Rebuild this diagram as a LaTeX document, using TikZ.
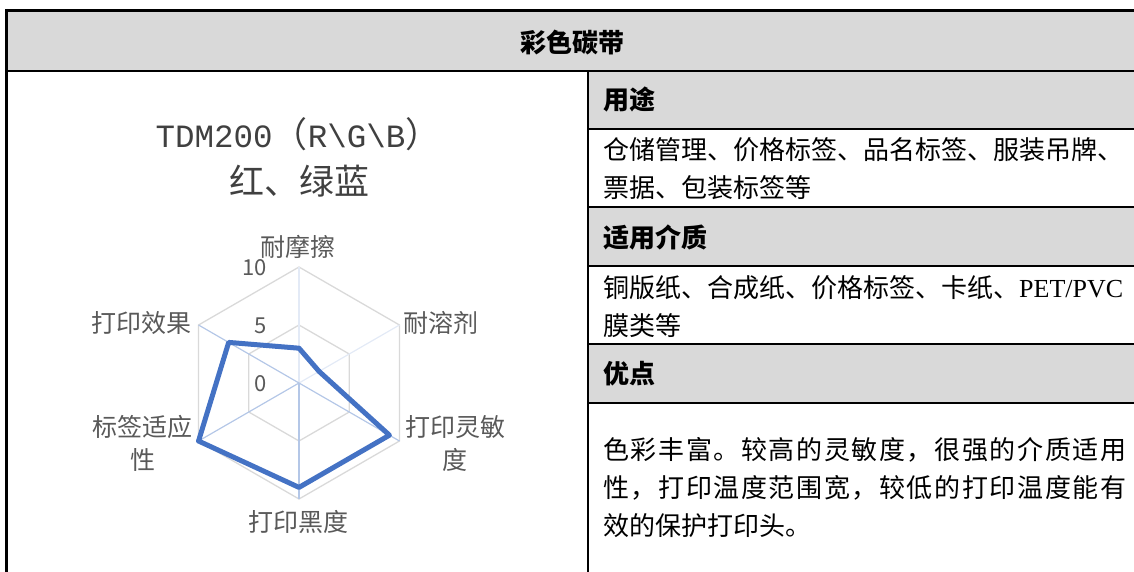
\documentclass[tikz,border=0pt]{standalone}
\usepackage{fontspec}
\setmainfont{Liberation Serif}
\newfontfamily\cjk{Noto Sans CJK SC}
\newfontfamily\cjkwide[LetterSpace=6.2]{Noto Sans CJK SC}
\newfontfamily\lmono{Liberation Mono}
\definecolor{cellgray}{HTML}{D9D9D9}
\definecolor{gridgray}{HTML}{D9D9D9}
\definecolor{spokeblue}{HTML}{B4C7E7}
\definecolor{spokepale}{HTML}{E3EAF6}
\definecolor{seriesblue}{HTML}{4472C4}
\definecolor{labelgray}{HTML}{595959}
\definecolor{titlegray}{HTML}{404040}
\tikzset{
  head/.style={anchor=west, inner sep=0pt, font=\cjk\bfseries\fontsize{26}{30}\selectfont},
  body/.style={anchor=west, inner sep=0pt, align=left, font=\fontsize{26}{38}\selectfont},
  axislabel/.style={inner sep=0pt, align=center, text=labelgray, font=\cjk\fontsize{25}{33}\selectfont},
  ticklabel/.style={anchor=east, inner sep=0pt, text=labelgray, font=\cjk\fontsize{22}{22}\selectfont},
  gridline/.style={draw=gridgray, line width=1.3pt},
  series/.style={draw=seriesblue, line width=5pt, line join=round}
}
\begin{document}
\begin{tikzpicture}[x=1pt, y=-1pt]
    \useasboundingbox (0,0) rectangle (1134,572);
    \fill[cellgray] (8,11) rectangle (1134,71);
    \fill[cellgray] (588,71) rectangle (1134,129);
    \fill[cellgray] (588,207) rectangle (1134,266);
    \fill[cellgray] (588,344) rectangle (1134,403);
    \draw[line width=1.4pt] (8,71)--(1134,71);
    \draw[line width=1.4pt] (588,71)--(588,572);
    \foreach \y in {129,207,266,344,403}
        \draw[line width=1.4pt] (588,\y)--(1134,\y);
    \draw[line width=3pt] (5,10.5)--(1134,10.5);
    \draw[line width=3pt] (6.5,9)--(6.5,572);

    \node[inner sep=0pt, font=\cjk\bfseries\fontsize{26}{30}\selectfont] (title) at (572,43) {彩色碳带};
    \node[head] (usage) at (603,100) {用途};
    \node[body] (usagetext) at (603,169) {\cjk 仓储管理、价格标签、品名标签、服装吊牌、\\\cjk 票据、包装标签等};
    \node[head] (media) at (603,237) {适用介质};
    \node[body] (mediatext) at (603,307) {{\cjk 铜版纸、合成纸、价格标签、卡纸、}PET/PVC\\\cjk 膜类等};
    \node[head] (merit) at (603,374) {优点};
    \node[body] (merittext) at (603,488) {\cjkwide 色彩丰富。较高的灵敏度，很强的介质适用\\\cjkwide 性，打印温度范围宽，较低的打印温度能有\\\cjk 效的保护打印头。};

    \node[inner sep=0pt, text=titlegray, font=\fontsize{32.5}{32.5}\selectfont] (model) at (298,134) {\lmono TDM200{\cjk\fontsize{35}{35}\selectfont （}R\textbackslash G\textbackslash B{\cjk\fontsize{35}{35}\selectfont ）}};
    \node[inner sep=0pt, text=titlegray, font=\cjk\fontsize{35}{35}\selectfont] (colours) at (299,181) {红、绿蓝};

    \begin{scope}[shift={(299,383)}, y=1pt]
        \foreach \r in {58,116}
            \draw[gridline] (90:\r)--(30:\r)--(-30:\r)--(-90:\r)--(210:\r)--(150:\r)--cycle;
        \foreach \a in {90,30}
            \draw[spokepale, line width=1.2pt] (0,0)--(\a:116);
        \foreach \a in {-30,-90,210,150}
            \draw[spokeblue, line width=1.2pt] (0,0)--(\a:116);
        \coordinate (wear) at (90:34.8);
        \coordinate (solvent) at (30:23.2);
        \coordinate (sens) at (-30:104.4);
        \coordinate (dark) at (-90:104.4);
        \coordinate (adapt) at (210:116);
        \coordinate (effect) at (150:81.2);
        \draw[series] (wear)--(solvent)--(sens)--(dark)--(adapt)--(effect)--cycle;
        \node[ticklabel] (t10) at (-32,115) {10};
        \node[ticklabel] (t5) at (-32,57) {5};
        \node[ticklabel] (t0) at (-32,-1) {0};
        \node[axislabel] (lwear) at (-1,136) {耐摩擦};
        \node[axislabel, anchor=west] (lsolvent) at (104,60) {耐溶剂};
        \node[axislabel, anchor=west] (lsens) at (106,-60) {打印灵敏\\度};
        \node[axislabel] (ldark) at (-1,-139) {打印黑度};
        \node[axislabel, anchor=east] (ladapt) at (-106,-60) {标签适应\\性};
        \node[axislabel, anchor=east] (leffect) at (-107,60) {打印效果};
    \end{scope}
\end{tikzpicture}
\end{document}
